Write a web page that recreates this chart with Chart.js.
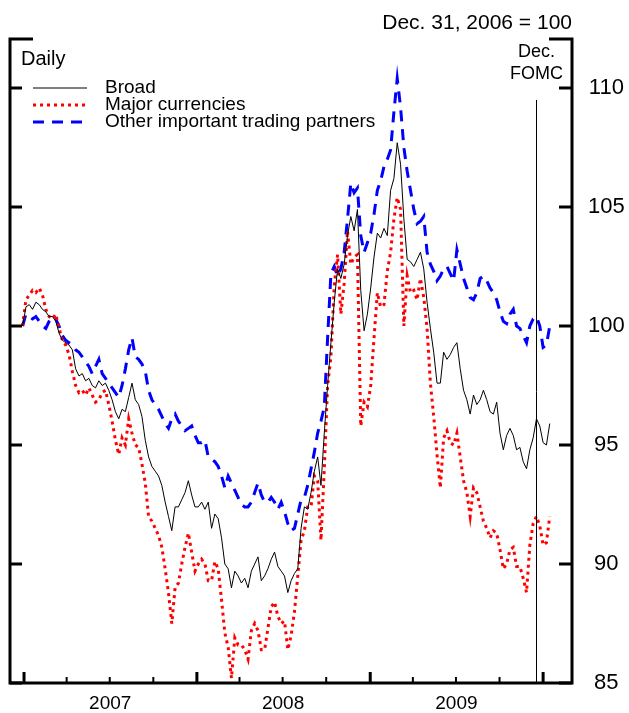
<!DOCTYPE html>
<html>
<head>
<meta charset="utf-8">
<script src="https://cdn.jsdelivr.net/npm/chart.js@4"></script>
<style>
  body { margin: 0; background: #fff; }
  canvas { display: block; }
</style>
</head>
<body>
<canvas id="grafico" width="629" height="713"></canvas>
<script>
// Índices nominais do dólar, 31 dez 2006 = 100 (observações semanais)

// Índice amplo
const amplo = [
    100.0, 100.8, 100.9, 100.7, 101.0, 100.9, 100.7, 100.6, 100.4, 100.4,
    100.2, 99.7, 99.4, 99.3, 99.2, 99.0, 98.2, 97.9, 98.0, 97.7,
    97.8, 97.5, 97.4, 97.7, 97.5, 97.6, 97.3, 96.9, 96.4, 96.1,
    96.5, 96.4, 97.0, 97.6, 96.9, 96.7, 96.2, 95.2, 94.5, 94.1,
    93.9, 93.7, 93.3, 92.6, 92.0, 91.4, 92.4, 92.4, 92.7, 93.0,
    93.5, 92.9, 92.4, 92.4, 92.6, 92.3, 92.6, 91.5, 92.1, 91.9,
    91.1, 90.0, 89.8, 89.0, 89.7, 89.5, 89.2, 89.4, 89.0, 89.7,
    90.0, 90.3, 89.3, 89.5, 89.8, 90.2, 90.5, 89.9, 89.7, 89.5,
    88.8, 89.3, 89.6, 89.8, 91.5, 92.4, 92.3, 93.0, 93.9, 94.5,
    93.3, 95.5, 97.5, 99.3, 101.0, 102.4, 102.0, 102.6, 103.8, 104.6,
    104.0, 104.9, 101.5, 99.8, 100.5, 101.6, 102.9, 103.9, 103.7, 104.1,
    103.8, 105.7, 106.2, 107.7, 106.8, 104.5, 102.8, 102.7, 102.5, 102.8,
    103.1, 102.4, 101.0, 99.9, 98.9, 97.6, 97.6, 98.9, 98.6, 98.8,
    99.1, 99.3, 98.2, 97.3, 96.9, 96.3, 97.1, 96.7, 96.9, 97.3,
    96.9, 96.4, 96.3, 96.8, 95.5, 94.8, 95.4, 95.7, 95.4, 94.8,
    94.9, 94.3, 94.0, 94.8, 95.3, 96.1, 95.8, 95.1, 95.0, 95.9
];

// Moedas principais
const moedasPrincipais = [
    100.0, 101.1, 101.3, 101.5, 101.4, 101.6, 101.3, 100.7, 100.4, 100.3,
    100.5, 99.9, 99.4, 99.2, 98.8, 98.1, 97.5, 97.2, 97.3, 97.1,
    97.4, 97.1, 96.8, 96.9, 97.2, 97.3, 96.7, 96.0, 95.2, 94.6,
    95.3, 95.0, 96.1, 95.5, 95.0, 94.9, 94.2, 93.4, 92.0, 91.8,
    91.5, 91.2, 90.7, 89.8, 88.8, 87.5, 89.0, 89.2, 90.0, 90.7,
    91.3, 90.5, 89.7, 90.0, 90.2, 90.0, 89.3, 89.3, 90.1, 89.8,
    88.5, 87.1, 86.5, 85.2, 86.9, 86.6, 86.6, 86.4, 86.0, 87.2,
    87.5, 87.2, 86.4, 86.4, 87.3, 88.2, 88.4, 87.8, 87.5, 87.6,
    86.4, 87.0, 88.0, 89.5, 91.0, 91.4, 92.4, 92.4, 93.7, 93.5,
    91.0, 94.0, 97.5, 98.7, 101.7, 103.0, 100.5, 101.8, 104.0, 102.6,
    102.9, 103.0, 95.8, 96.8, 96.6, 97.5, 99.5, 101.4, 100.8, 100.9,
    102.3, 103.1, 104.5, 105.4, 104.9, 100.0, 102.1, 101.4, 101.5, 101.1,
    102.0, 101.2, 99.9, 97.6, 96.2, 94.6, 93.2, 95.3, 95.6, 95.1,
    95.0, 95.5, 94.5, 93.5, 93.0, 92.0, 93.2, 93.0, 92.4, 91.8,
    91.5, 91.1, 91.4, 91.3, 90.6, 89.8, 90.0, 90.6, 90.7, 89.9,
    89.9, 89.4, 88.8, 90.8, 91.7, 92.0, 91.6, 90.8, 90.9, 92.0
];

// Outros parceiros comerciais importantes
const outrosParceiros = [
    100.0, 100.5, 100.4, 100.3, 100.4, 100.2, 100.0, 99.9, 100.2, 100.4,
    100.3, 100.0, 99.6, 99.4, 99.3, 99.2, 99.0, 98.9, 98.7, 98.5,
    98.3, 98.0, 98.3, 98.6, 98.0, 97.8, 97.6, 97.4, 97.2, 97.0,
    97.5, 98.2, 99.0, 99.5, 98.7, 98.6, 98.4, 98.1, 97.3, 96.9,
    96.7, 96.5, 96.2, 95.9, 95.7, 96.1, 96.3, 96.0, 95.8, 95.6,
    95.7, 95.8, 95.4, 95.1, 95.1, 95.2, 94.5, 94.4, 94.3, 94.1,
    93.7, 93.2, 93.7, 93.4, 93.1, 92.8, 92.5, 92.4, 92.4, 92.6,
    93.0, 93.4, 92.9, 92.6, 92.6, 92.8, 92.6, 92.3, 92.6, 92.2,
    91.7, 91.4, 91.5, 92.1, 92.7, 92.8, 93.3, 94.0, 94.7, 95.5,
    96.0, 96.6, 99.5, 102.2, 102.5, 102.1, 102.4, 103.1, 104.5, 106.0,
    105.6, 105.8, 103.8, 103.1, 103.5, 103.9, 104.7, 105.7, 106.1, 106.7,
    107.0, 107.4, 109.0, 110.4, 109.2, 107.5, 106.5, 105.7, 104.9, 104.3,
    104.4, 104.6, 103.1, 102.6, 102.3, 101.9, 102.1, 102.4, 102.5, 102.2,
    101.9, 103.2, 102.6, 102.0, 101.6, 101.2, 101.1, 101.4, 102.0, 102.1,
    101.9, 101.6, 101.4, 101.1, 100.6, 100.2, 100.1, 100.5, 100.7, 100.0,
    99.9, 99.6, 99.3, 100.0, 100.3, 100.4, 100.0, 99.1, 99.2, 100.0
];

// Datas em dias desde 1 jan 2007: sextas-feiras a partir de 29 dez 2006
const primeiroDia = -3;
const dias = amplo.map((_, i) => primeiroDia + 7 * i);

// Eixos
const rotulosAnos = ['2007', '2008', '2009'];
const meioDosAnos = [182, 547, 913];
const iniciosDosAnos = [0, 365, 731, 1096];
const trimestres = [90, 181, 273, 455, 546, 638, 821, 912, 1004];
const ticksY = [85, 90, 95, 100, 105, 110];
const diaFomc = 1080; // reunião do FOMC de dezembro de 2009

const fonte = '"Liberation Sans", Arial, sans-serif';

function serie(valores) {
    return valores.map((v, i) => ({ x: dias[i], y: v }));
}

// Moldura, marcas dos eixos, legenda e anotações
const moldura = {
    id: 'moldura',
    afterDraw(chart) {
        const { ctx, chartArea: a, scales: { x, y } } = chart;
        ctx.save();
        ctx.strokeStyle = '#000';
        ctx.fillStyle = '#000';

        // linha do FOMC
        const xf = Math.round(x.getPixelForValue(diaFomc)) + 0.5;
        ctx.lineWidth = 1;
        ctx.beginPath();
        ctx.moveTo(xf, y.getPixelForValue(109.5));
        ctx.lineTo(xf, a.bottom);
        ctx.stroke();

        // moldura
        ctx.lineWidth = 3;
        ctx.beginPath();
        ctx.moveTo(a.left + 23, a.top);
        ctx.lineTo(a.left, a.top);
        ctx.lineTo(a.left, a.bottom);
        ctx.lineTo(a.right, a.bottom);
        ctx.lineTo(a.right, a.top);
        ctx.lineTo(a.right - 23, a.top);
        ctx.stroke();

        // marcas do eixo y, dos dois lados
        ticksY.forEach(v => {
            const py = y.getPixelForValue(v);
            ctx.beginPath();
            ctx.moveTo(a.left, py); ctx.lineTo(a.left + 12, py);
            ctx.moveTo(a.right, py); ctx.lineTo(a.right - 13, py);
            ctx.stroke();
        });

        // marcas do eixo x: anos e trimestres
        iniciosDosAnos.forEach(d => {
            const px = x.getPixelForValue(d);
            ctx.beginPath();
            ctx.moveTo(px, a.bottom); ctx.lineTo(px, a.bottom - 11);
            ctx.stroke();
        });
        ctx.lineWidth = 2;
        trimestres.forEach(d => {
            const px = x.getPixelForValue(d);
            ctx.beginPath();
            ctx.moveTo(px, a.bottom); ctx.lineTo(px, a.bottom - 6);
            ctx.stroke();
        });

        // textos
        ctx.textBaseline = 'middle';
        ctx.font = '21px ' + fonte;
        ctx.textAlign = 'right';
        ctx.fillText('Dec. 31, 2006 = 100', a.right, 23);

        ctx.font = '20px ' + fonte;
        ctx.textAlign = 'left';
        ctx.fillText('Daily', a.left + 11, 59);

        ctx.font = '18px ' + fonte;
        ctx.textAlign = 'center';
        ctx.fillText('Dec.', xf, 52);
        ctx.fillText('FOMC', xf, 74);

        // legenda
        ctx.font = '19px ' + fonte;
        ctx.textAlign = 'left';
        chart.data.datasets.forEach((ds, i) => {
            const ly = 88 + 17 * i;
            ctx.strokeStyle = ds.borderColor;
            ctx.lineWidth = ds.borderWidth;
            ctx.setLineDash(ds.borderDash || []);
            ctx.beginPath();
            ctx.moveTo(a.left + 23, ly);
            ctx.lineTo(a.left + 77, ly);
            ctx.stroke();
            ctx.setLineDash([]);
            ctx.fillText(ds.label, a.left + 95, ly);
        });
        ctx.restore();
    }
};

new Chart(document.getElementById('grafico'), {
    type: 'line',
    data: {
        datasets: [
            {
                label: 'Broad',
                data: serie(amplo),
                borderColor: '#000000',
                borderWidth: 1
            },
            {
                label: 'Major currencies',
                data: serie(moedasPrincipais),
                borderColor: '#ff0000',
                borderWidth: 3,
                borderDash: [3, 4]
            },
            {
                label: 'Other important trading partners',
                data: serie(outrosParceiros),
                borderColor: '#0000ff',
                borderWidth: 3,
                borderDash: [11, 8]
            }
        ]
    },
    options: {
        responsive: false,
        animation: false,
        devicePixelRatio: 1,
        layout: { padding: { left: 10, top: 39, right: 0, bottom: 0 } },
        elements: {
            point: { radius: 0 },
            line: { tension: 0, fill: false }
        },
        plugins: {
            legend: { display: false },
            tooltip: { enabled: false }
        },
        scales: {
            x: {
                type: 'linear',
                min: -29.6,
                max: 1157,
                grid: { display: false, drawTicks: false },
                border: { display: false },
                afterBuildTicks: s => { s.ticks = meioDosAnos.map(v => ({ value: v })); },
                afterFit: s => { s.height = 30; },
                ticks: {
                    autoSkip: false,
                    maxRotation: 0,
                    padding: 9,
                    color: '#000',
                    font: { family: fonte, size: 19 },
                    callback: (v, i) => rotulosAnos[i]
                }
            },
            y: {
                position: 'right',
                min: 85,
                max: 112.06,
                grid: { display: false, drawTicks: false },
                border: { display: false },
                afterBuildTicks: s => { s.ticks = ticksY.map(v => ({ value: v })); },
                afterFit: s => { s.width = 57; },
                ticks: {
                    crossAlign: 'center',
                    padding: 16,
                    color: '#000',
                    font: { family: fonte, size: 22 }
                }
            }
        }
    },
    plugins: [moldura]
});
</script>
</body>
</html>
